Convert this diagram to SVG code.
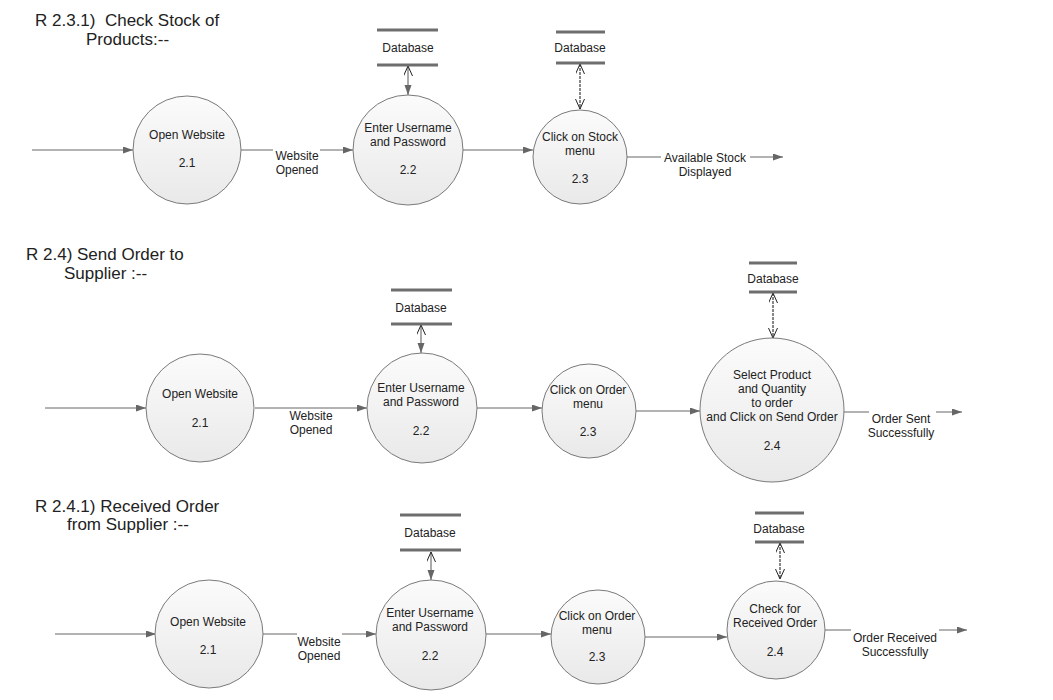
<svg xmlns="http://www.w3.org/2000/svg" width="1053" height="700" viewBox="0 0 1053 700">
<defs>
<linearGradient id="g" x1="0" y1="0" x2="0" y2="1">
<stop offset="0" stop-color="#fbfbfb"/>
<stop offset="1" stop-color="#e9e9e9"/>
</linearGradient>
<marker id="fa" markerUnits="userSpaceOnUse" markerWidth="11" markerHeight="8" refX="10" refY="3.5" orient="auto-start-reverse">
<path d="M0,0 L10,3.5 L0,7 z" fill="#666"/>
</marker>
<marker id="oa" markerUnits="userSpaceOnUse" markerWidth="12" markerHeight="11" refX="10" refY="4.5" orient="auto-start-reverse">
<path d="M0,0 L10,4.5 L0,9" fill="none" stroke="#222" stroke-width="1"/>
</marker>
</defs>
<style>
text{font-family:"Liberation Sans",Arial,sans-serif;fill:#222}
.t{font-size:17px}
.n{font-size:12px;text-anchor:middle}
.p{fill:url(#g);stroke:#7a7a7a;stroke-width:1}
.bar{stroke:#6e6e6e;stroke-width:3}
.c{stroke:#666;stroke-width:1;fill:none;marker-end:url(#fa)}
.d1{stroke:#555;stroke-width:1;fill:none;marker-start:url(#oa);marker-end:url(#fa)}
.d2{stroke:#111;stroke-width:1;stroke-dasharray:3,1;fill:none;marker-start:url(#oa);marker-end:url(#oa)}
.bg{fill:#fff}
</style>
<rect width="1053" height="700" fill="#fff"/>

<g id="titles">
<text class="t" x="35" y="26" xml:space="preserve">R 2.3.1)  Check Stock of</text>
<text class="t" x="86" y="45">Products:--</text>
<text class="t" x="26" y="260">R 2.4) Send Order to</text>
<text class="t" x="64" y="279">Supplier :--</text>
<text class="t" x="35" y="512">R 2.4.1) Received Order</text>
<text class="t" x="67" y="530">from Supplier :--</text>
</g>

<g id="connectors">
<!-- section 1 -->
<line class="c" x1="32" y1="150" x2="133" y2="150"/>
<line class="c" x1="241" y1="150" x2="353" y2="150"/>
<line class="c" x1="463" y1="150" x2="533" y2="150"/>
<line class="c" x1="627" y1="157" x2="783" y2="157"/>
<line class="d1" x1="408" y1="66" x2="408" y2="95"/>
<line class="d2" x1="580" y1="64" x2="580" y2="109"/>
<!-- section 2 -->
<line class="c" x1="45" y1="408" x2="146" y2="408"/>
<line class="c" x1="255" y1="408" x2="367" y2="408"/>
<line class="c" x1="477" y1="408" x2="542" y2="408"/>
<line class="c" x1="636" y1="411" x2="700" y2="411"/>
<line class="c" x1="844" y1="412" x2="962" y2="412"/>
<line class="d1" x1="421" y1="325" x2="421" y2="353"/>
<line class="d2" x1="773" y1="293" x2="773" y2="338"/>
<!-- section 3 -->
<line class="c" x1="55" y1="634" x2="156" y2="634"/>
<line class="c" x1="263" y1="634" x2="376" y2="634"/>
<line class="c" x1="486" y1="634" x2="551" y2="634"/>
<line class="c" x1="645" y1="637" x2="727" y2="637"/>
<line class="c" x1="825" y1="630" x2="967" y2="630"/>
<line class="d1" x1="431" y1="552" x2="431" y2="580"/>
<line class="d2" x1="780" y1="543" x2="780" y2="579"/>
<!-- labels -->
<rect class="bg" x="273" y="148" width="47" height="28"/>
<text class="n" x="297" y="160">Website</text>
<text class="n" x="297" y="174">Opened</text>
<rect class="bg" x="661" y="149" width="89" height="30"/>
<text class="n" x="705" y="162">Available Stock</text>
<text class="n" x="705" y="176">Displayed</text>
<text class="n" x="311" y="420">Website</text>
<text class="n" x="311" y="434">Opened</text>
<rect class="bg" x="869" y="410" width="67" height="30"/>
<text class="n" x="901" y="423">Order Sent</text>
<text class="n" x="901" y="437">Successfully</text>
<rect class="bg" x="297" y="632" width="45" height="30"/>
<text class="n" x="319" y="646">Website</text>
<text class="n" x="319" y="660">Opened</text>
<rect class="bg" x="851" y="628" width="88" height="32"/>
<text class="n" x="895" y="642">Order Received</text>
<text class="n" x="895" y="656">Successfully</text>
</g>

<g id="s1-p21">
<circle class="p" cx="187" cy="150" r="54"/>
<text class="n" x="187" y="139">Open Website</text>
<text class="n" x="187" y="167">2.1</text>
</g>
<g id="s1-p22">
<circle class="p" cx="408" cy="150" r="55"/>
<text class="n" x="408" y="132">Enter Username</text>
<text class="n" x="408" y="146">and Password</text>
<text class="n" x="408" y="174">2.2</text>
</g>
<g id="s1-p23">
<circle class="p" cx="580" cy="157" r="47"/>
<text class="n" x="580" y="141">Click on Stock</text>
<text class="n" x="580" y="155">menu</text>
<text class="n" x="580" y="183">2.3</text>
</g>
<g id="s1-db1">
<line class="bar" x1="377" y1="30" x2="438" y2="30"/>
<line class="bar" x1="377" y1="65" x2="438" y2="65"/>
<text class="n" x="408" y="52">Database</text>
</g>
<g id="s1-db2">
<line class="bar" x1="556" y1="32" x2="605" y2="32"/>
<line class="bar" x1="556" y1="63" x2="605" y2="63"/>
<text class="n" x="580" y="52">Database</text>
</g>

<g id="s2-p21">
<circle class="p" cx="200" cy="408" r="54"/>
<text class="n" x="200" y="398">Open Website</text>
<text class="n" x="200" y="427">2.1</text>
</g>
<g id="s2-p22">
<circle class="p" cx="422" cy="408" r="55"/>
<text class="n" x="421" y="392">Enter Username</text>
<text class="n" x="421" y="406">and Password</text>
<text class="n" x="421" y="435">2.2</text>
</g>
<g id="s2-p23">
<circle class="p" cx="589" cy="411" r="47"/>
<text class="n" x="588" y="394">Click on Order</text>
<text class="n" x="588" y="408">menu</text>
<text class="n" x="588" y="436">2.3</text>
</g>
<g id="s2-p24">
<circle class="p" cx="772" cy="410" r="72"/>
<text class="n" x="772" y="379">Select Product</text>
<text class="n" x="772" y="393">and Quantity</text>
<text class="n" x="772" y="407">to order</text>
<text class="n" x="772" y="421">and Click on Send Order</text>
<text class="n" x="772" y="450">2.4</text>
</g>
<g id="s2-db1">
<line class="bar" x1="391" y1="290" x2="452" y2="290"/>
<line class="bar" x1="391" y1="324" x2="452" y2="324"/>
<text class="n" x="421" y="312">Database</text>
</g>
<g id="s2-db2">
<line class="bar" x1="749" y1="263" x2="797" y2="263"/>
<line class="bar" x1="749" y1="292" x2="797" y2="292"/>
<text class="n" x="773" y="283">Database</text>
</g>

<g id="s3-p21">
<circle class="p" cx="209" cy="634" r="54"/>
<text class="n" x="208" y="626">Open Website</text>
<text class="n" x="208" y="654">2.1</text>
</g>
<g id="s3-p22">
<circle class="p" cx="431" cy="635" r="55"/>
<text class="n" x="430" y="617">Enter Username</text>
<text class="n" x="430" y="631">and Password</text>
<text class="n" x="430" y="660">2.2</text>
</g>
<g id="s3-p23">
<circle class="p" cx="598" cy="637" r="47"/>
<text class="n" x="597" y="620">Click on Order</text>
<text class="n" x="597" y="634">menu</text>
<text class="n" x="597" y="661">2.3</text>
</g>
<g id="s3-p24">
<circle class="p" cx="776" cy="630" r="49"/>
<text class="n" x="775" y="613">Check for</text>
<text class="n" x="775" y="627">Received Order</text>
<text class="n" x="775" y="656">2.4</text>
</g>
<g id="s3-db1">
<line class="bar" x1="400" y1="515" x2="461" y2="515"/>
<line class="bar" x1="400" y1="550" x2="461" y2="550"/>
<text class="n" x="430" y="537">Database</text>
</g>
<g id="s3-db2">
<line class="bar" x1="755" y1="513" x2="804" y2="513"/>
<line class="bar" x1="755" y1="542" x2="804" y2="542"/>
<text class="n" x="779" y="533">Database</text>
</g>
</svg>
